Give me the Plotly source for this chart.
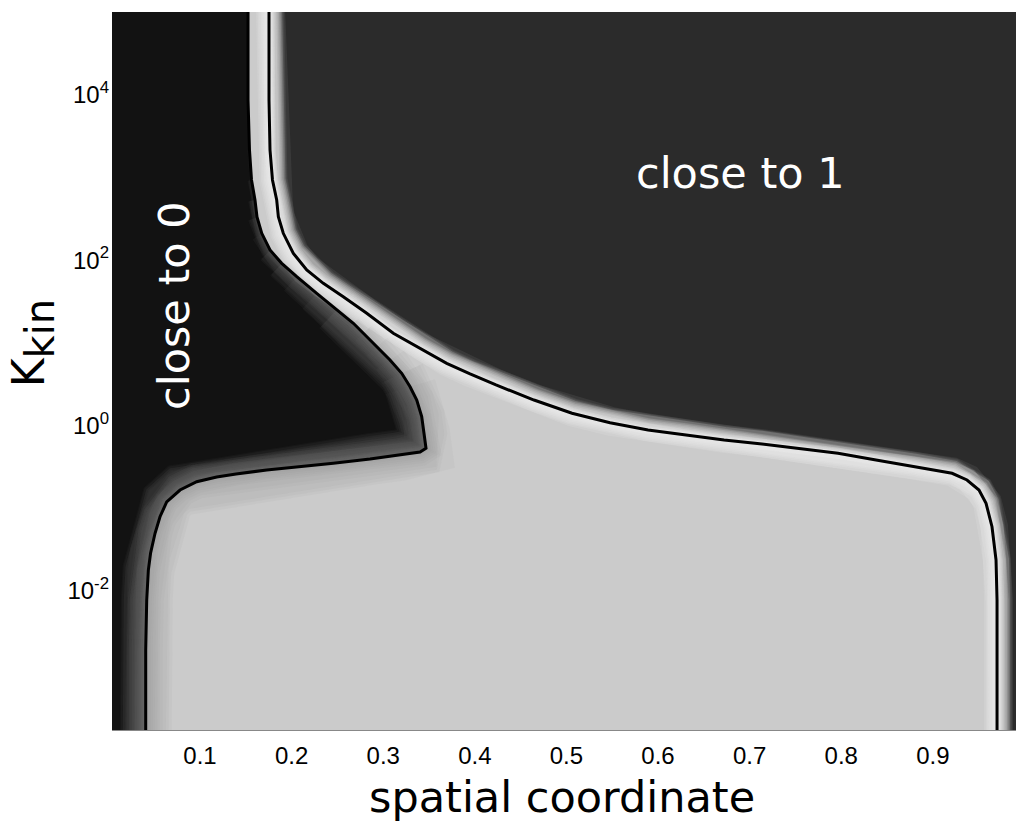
import numpy as np
import plotly.graph_objects as go

# ---------------- data ----------------
# contour bounding the "close to 0" region (spatial coordinate, log10 K_kin)
contour0_x = [0.1524, 0.1524, 0.1524, 0.1540, 0.1562, 0.1600, 0.1622, 0.1674, 0.1764, 0.1892,
              0.2056, 0.2274, 0.2492, 0.2674, 0.2783, 0.2929, 0.3074, 0.3202, 0.3293, 0.3366,
              0.3420, 0.3445, 0.3467, 0.3402, 0.3183, 0.2856, 0.2455, 0.2092, 0.1728, 0.1393,
              0.1182, 0.0964, 0.0782, 0.0636, 0.0563, 0.0509, 0.0460, 0.0436, 0.0418, 0.0407,
              0.0407, 0.0407]
contour0_logk = [5.06, 5.00, 3.936, 3.331, 2.969, 2.727, 2.521, 2.324, 2.122, 1.961,
                 1.799, 1.598, 1.397, 1.236, 1.115, 0.953, 0.792, 0.631, 0.469, 0.308,
                 0.107, -0.094, -0.276, -0.320, -0.357, -0.405, -0.457, -0.496, -0.538, -0.586,
                 -0.623, -0.680, -0.780, -0.925, -1.103, -1.303, -1.545, -1.747, -2.110, -2.715,
                 -3.682, -3.75]

# contour bounding the "close to 1" region
contour1_x = [0.1753, 0.1753, 0.1753, 0.1764, 0.1791, 0.1837, 0.1855, 0.1909, 0.2019, 0.2165,
              0.2346, 0.2564, 0.2820, 0.3110, 0.3402, 0.3693, 0.3948, 0.4231, 0.4646, 0.5061,
              0.5476, 0.5891, 0.6306, 0.6721, 0.7135, 0.7550, 0.7965, 0.8380, 0.8795, 0.9210,
              0.9373, 0.9504, 0.9581, 0.9646, 0.9690, 0.9701, 0.9701, 0.9701]
contour1_logk = [5.06, 5.00, 3.936, 3.331, 2.969, 2.727, 2.525, 2.324, 2.082, 1.880,
                 1.719, 1.557, 1.357, 1.115, 0.931, 0.752, 0.623, 0.490, 0.308, 0.148,
                 0.034, -0.054, -0.115, -0.175, -0.224, -0.276, -0.336, -0.417, -0.498, -0.578,
                 -0.659, -0.780, -0.941, -1.224, -1.626, -2.110, -3.682, -3.75]

x_ticks = [0.1, 0.2, 0.3, 0.4, 0.5, 0.6, 0.7, 0.8, 0.9]
x_ticklabels = ["0.1", "0.2", "0.3", "0.4", "0.5", "0.6", "0.7", "0.8", "0.9"]
y_ticks = [1e-2, 1e0, 1e2, 1e4]
y_ticklabels = ["10<sup>-2</sup>", "10<sup>0</sup>", "10<sup>2</sup>", "10<sup>4</sup>"]

x_range = [0.0039, 0.9908]
logk_range = [-3.682, 5.0]

# ---------------- build ----------------
c0x = np.array(contour0_x)
c0k = 10.0 ** np.array(contour0_logk)
c1x = np.array(contour1_x)
c1k = 10.0 ** np.array(contour1_logk)

fig = go.Figure()

def poly(x, y, color):
    fig.add_trace(go.Scatter(x=x, y=y, mode="lines", fill="toself", fillcolor=color,
                             line=dict(width=0, color=color), hoverinfo="skip", showlegend=False))

def line(x, y, color, width):
    fig.add_trace(go.Scatter(x=x, y=y, mode="lines", line=dict(color=color, width=width),
                             hoverinfo="skip", showlegend=False))

# "close to 0" region
left_x = np.concatenate([[-0.02], c0x, [-0.02]])
left_k = np.concatenate([[c0k[0]], c0k, [c0k[-1]]])
poly(left_x, left_k, "#121212")

# soft glow on the dark sides of both contours (stacked translucent strokes);
# the glow inside the "close to 0" region widens further down the contour
glow0_widths = [50, 46, 42, 38, 34, 31, 28, 25, 22, 19, 16, 14, 12, 10, 8, 6, 4]
for w in glow0_widths:
    s = min(3 + w // 5, 12)
    line(c0x[s:], c0k[s:], "rgba(150,150,150,0.05)", w)
glow1_widths = [32, 30, 28, 26, 24, 22, 20, 18, 16, 14, 12, 11, 10, 9, 8, 7, 6, 5, 4, 3, 2]
for w in glow1_widths:
    line(c1x, c1k, "rgba(235,235,235,0.075)", w)

# intermediate (light) region
mid_x = np.concatenate([c0x, c1x[::-1]])
mid_k = np.concatenate([c0k, c1k[::-1]])
poly(mid_x, mid_k, "#cbcbcb")

# light-side shading
shade0_widths = [52, 46, 40, 34, 28, 23, 18, 14, 10, 6]
for w in shade0_widths:
    s = 12 + w // 8
    line(c0x[s:], c0k[s:], "rgba(120,120,120,0.05)", w)
bright1_widths = [26, 23, 20, 17, 14, 11, 8, 5]
for w in bright1_widths:
    line(c1x, c1k, "rgba(248,248,248,0.13)", w)

# contour lines
line(c0x, c0k, "#000000", 3)
line(c1x, c1k, "#000000", 3)

dejavu = "DejaVu Sans, Verdana, sans-serif"
helv = "Liberation Sans, Arial, Helvetica, sans-serif"

fig.update_layout(
    width=1016, height=823,
    margin=dict(l=112, r=0, t=12, b=93),
    paper_bgcolor="white", plot_bgcolor="#2b2b2b",
    showlegend=False,
    xaxis=dict(range=x_range, tickvals=x_ticks, ticktext=x_ticklabels, showgrid=False,
               zeroline=False, ticks="", showline=True, linecolor="#888888", linewidth=1,
               tickfont=dict(family=helv, size=24, color="black"), ticklabelstandoff=4),
    yaxis=dict(type="log", range=logk_range, tickvals=y_ticks, ticktext=y_ticklabels,
               showgrid=False, zeroline=False, ticks="", showline=False,
               tickfont=dict(family=helv, size=24, color="black"), ticklabelstandoff=2),
    annotations=[
        dict(text="spatial coordinate", xref="paper", yref="paper", x=0.498, y=-0.093,
             xanchor="center", yanchor="middle", showarrow=False,
             font=dict(family=dejavu, size=43, color="black")),
        dict(text="K<sub><span style='font-size:40px'>kin</span></sub>", xref="paper", yref="paper",
             x=-0.087, y=0.539, xanchor="center", yanchor="middle", textangle=-90, showarrow=False,
             font=dict(family=dejavu, size=44, color="black")),
        dict(text="close to 0", xref="x", yref="y", x=0.0715, y=1.457, textangle=-90,
             xanchor="center", yanchor="middle", showarrow=False,
             font=dict(family=dejavu, size=43, color="white")),
        dict(text="close to 1", xref="x", yref="y", x=0.6895, y=3.053,
             xanchor="center", yanchor="middle", showarrow=False,
             font=dict(family=dejavu, size=43, color="white")),
    ],
)

fig.write_html("out.html", config={"displayModeBar": False},
               post_script="document.body.style.margin='0';document.body.style.overflow='hidden';")
